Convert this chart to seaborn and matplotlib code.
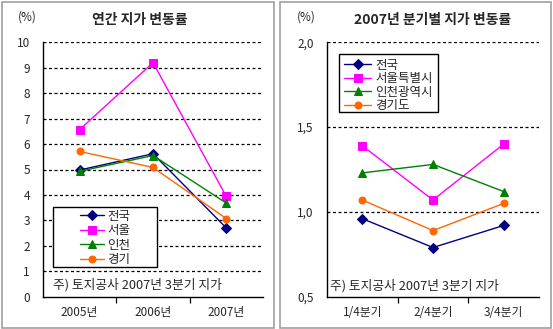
import matplotlib
matplotlib.use("Agg")
import matplotlib.pyplot as plt
from matplotlib.patches import Rectangle
from matplotlib.ticker import FixedLocator
import seaborn as sns
import pandas as pd

sns.set_theme(style="white")
plt.rcParams['font.family'] = ['Noto Sans CJK KR', 'DejaVu Sans']

# Annual land price change (%)
years = ["2005년", "2006년", "2007년"]
annual_nation = [4.98, 5.62, 2.70]
annual_seoul = [6.57, 9.20, 3.94]
annual_incheon = [4.93, 5.55, 3.68]
annual_gyeonggi = [5.71, 5.08, 3.07]
annual_names = ["전국", "서울", "인천", "경기"]

# 2007 quarterly land price change (%)
quarters = ["1/4분기", "2/4분기", "3/4분기"]
q_nation = [0.96, 0.79, 0.92]
q_seoul = [1.39, 1.07, 1.40]
q_incheon = [1.23, 1.28, 1.12]
q_gyeonggi = [1.07, 0.89, 1.05]
q_names = ["전국", "서울특별시", "인천광역시", "경기도"]

note = "주) 토지공사 2007년 3분기 지가"

colors = ["#000080", "#FF00FF", "#008000", "#FF6600"]
markers = ["D", "s", "^", "o"]
msizes = [5, 6, 6, 5]


def long_frame(cats, names, series):
    rows = []
    for name, vals in zip(names, series):
        for i, (c, v) in enumerate(zip(cats, vals)):
            rows.append({"cat": i, "label": c, "region": name, "value": v})
    return pd.DataFrame(rows)


df_a = long_frame(years, annual_names,
                  [annual_nation, annual_seoul, annual_incheon, annual_gyeonggi])
df_q = long_frame(quarters, q_names,
                  [q_nation, q_seoul, q_incheon, q_gyeonggi])

W, H = 553, 329
fig = plt.figure(figsize=(W / 100, H / 100), dpi=100)
fig.patch.set_facecolor("white")

# panel frames
for x0, x1 in [(1.5, 273.5), (279.5, 550.5)]:
    fig.patches.append(Rectangle((x0 / W, 1.5 / H), (x1 - x0) / W, 325.5 / H,
                                 transform=fig.transFigure, fill=False,
                                 edgecolor="#a0a0a0", linewidth=1.2))

ax1 = fig.add_axes([43 / W, 1 - 296.7 / H, 220 / W, 254.4 / H])
ax2 = fig.add_axes([327 / W, 1 - 296.7 / H, 212 / W, 254.4 / H])


def draw(ax, df, names, cats, ylim, yticks, ylabels, grid_vals,
         box, anchor, hlen, lspace):
    for name, c, m, ms in zip(names, colors, markers, msizes):
        sub = df[df["region"] == name]
        sns.lineplot(data=sub, x="cat", y="value", ax=ax, color=c, marker=m,
                     markersize=ms, markeredgecolor=c, linewidth=1.0,
                     label=name, legend=False)
    ax.set_xlim(-0.5, len(cats) - 0.5)
    ax.set_ylim(*ylim)
    for g in grid_vals:
        ax.axhline(g, color="black", linestyle=(0, (2.4, 2.0)), linewidth=0.9,
                   zorder=0)
    ax.set_yticks(yticks)
    ax.set_yticklabels(ylabels, fontsize=8.5)
    ax.set_xticks(range(len(cats)))
    ax.set_xticklabels(cats, fontsize=8.5)
    ax.xaxis.set_minor_locator(FixedLocator([i + 0.5 for i in range(len(cats) - 1)]))
    ax.tick_params(axis="x", which="major", length=0, pad=6.5)
    ax.tick_params(axis="x", which="minor", length=4, width=0.9,
                   color="black", direction="out", bottom=True)
    ax.tick_params(axis="y", length=0, pad=9.5)
    ax.set_xlabel("")
    ax.set_ylabel("")
    for s in ["top", "right"]:
        ax.spines[s].set_visible(False)
    for s in ["left", "bottom"]:
        ax.spines[s].set_color("black")
        ax.spines[s].set_linewidth(1.0)
    ax.set_facecolor("white")
    # legend box
    bx0, by0, bx1, by1 = box
    ax.add_patch(Rectangle((bx0, by0), bx1 - bx0, by1 - by0,
                           transform=ax.transAxes, fill=True,
                           facecolor="white", edgecolor="black",
                           linewidth=1.0, zorder=4))
    leg = ax.legend(loc="upper left", bbox_to_anchor=anchor, fontsize=9,
                    frameon=False, borderpad=0, labelspacing=lspace,
                    handlelength=hlen, handletextpad=0.3, borderaxespad=0)
    leg.set_zorder(5)


draw(ax1, df_a, annual_names, years, (0, 10), list(range(11)),
     [str(i) for i in range(11)], list(range(1, 11)),
     (0.0455, 0.1167, 0.518, 0.3526), (0.168, 0.342), 1.9, 0.12)
draw(ax2, df_q, q_names, quarters, (0.5, 2.0), [0.5, 1.0, 1.5, 2.0],
     ["0,5", "1,0", "1,5", "2,0"], [1.0, 1.5, 2.0],
     (0.0566, 0.726, 0.5236, 0.954), (0.080, 0.935), 2.2, 0.03)

ax1.text(0.045, 0.046, note, transform=ax1.transAxes, fontsize=9.2,
         va="center", ha="left")
ax2.text(0.014, 0.042, note, transform=ax2.transAxes, fontsize=9.2,
         va="center", ha="left")

fig.text(140 / W, 1 - 20 / H, "연간 지가 변동률", fontsize=10, fontweight="bold",
         ha="center", va="center")
fig.text(27 / W, 1 - 17 / H, "(%)", fontsize=8.5, ha="center", va="center")
fig.text(433 / W, 1 - 20 / H, "2007년 분기별 지가 변동률", fontsize=10,
         fontweight="bold", ha="center", va="center")
fig.text(306 / W, 1 - 17 / H, "(%)", fontsize=8.5, ha="center", va="center")

fig.savefig("out.png", dpi=100, facecolor="white")
